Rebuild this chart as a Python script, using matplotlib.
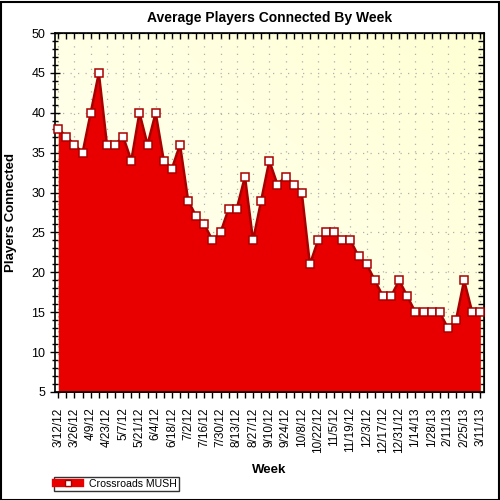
import numpy as np
import matplotlib
matplotlib.use("Agg")
import matplotlib.pyplot as plt
from matplotlib.lines import Line2D
from matplotlib.patches import Rectangle

plt.rcParams['font.family'] = ['Liberation Sans', 'DejaVu Sans']

# weekly average players, starting 3/12/12
players = [38, 37, 36, 35, 40, 45, 36, 36, 37, 34, 40, 36, 40, 34, 33, 36, 29, 27, 26,
           24, 25, 28, 28, 32, 24,
           29, 34, 31, 32, 31, 30, 21, 24, 25, 25, 24, 24, 22, 21, 19, 17, 17, 19,
           17, 15, 15, 15, 15, 13, 14, 19, 15, 15]
week_labels = ['3/12/12', '3/26/12', '4/9/12', '4/23/12', '5/7/12', '5/21/12', '6/4/12',
               '6/18/12', '7/2/12', '7/16/12', '7/30/12', '8/13/12', '8/27/12', '9/10/12',
               '9/24/12', '10/8/12', '10/22/12', '11/5/12', '11/19/12', '12/3/12',
               '12/17/12', '12/31/12', '1/14/13', '1/28/13', '2/11/13', '2/25/13', '3/11/13']
series_name = 'Crossroads MUSH'

x = np.arange(len(players))
fill_col = '#e80000'
edge_col = '#a80000'

fig = plt.figure(figsize=(5, 5), dpi=100)
fig.patch.set_facecolor('white')
ax = fig.add_axes([0.11, 0.216, 0.858, 0.718])

# soft yellow gradient background
grad = np.linspace(0, 1, 256)
gx, gy = np.meshgrid(grad, grad)
g = (gx + gy) / 2
bg = np.zeros((256, 256, 3))
bg[..., 0] = 1.0
bg[..., 1] = 1.0
bg[..., 2] = 0.97 - 0.14 * g
ax.imshow(bg, extent=[0, 1, 0, 1], transform=ax.transAxes, origin='lower',
          aspect='auto', zorder=0)

ax.set_xlim(-0.4, len(players) - 0.55)
ax.set_ylim(5, 50)

ax.grid(True, which='major', color='#b0b0b0', linestyle=(0, (1, 5)), linewidth=0.9, zorder=1)

ax.fill_between(x, 0, players, color=fill_col, zorder=2, linewidth=0)
ax.plot(x, players, color=edge_col, lw=1.8, zorder=3)
ax.plot(x, players, linestyle='none', zorder=4, clip_on=False,
        marker='s', ms=5.5, mfc='white', mec=edge_col, mew=1.1)

ax.set_xticks(x[::2])
ax.set_xticklabels(week_labels, rotation=90, fontsize=8.5)
ax.set_xticks(x, minor=True)
ax.set_yticks(np.arange(5, 51, 5))
ax.set_yticks(np.arange(5, 51, 1), minor=True)
ax.tick_params(axis='y', which='major', direction='inout', length=7, width=1, labelsize=9)
ax.tick_params(axis='y', which='minor', direction='inout', length=4.5, width=1)
ax.tick_params(axis='x', which='both', direction='out', length=4, width=1, pad=7)

for s in ax.spines.values():
    s.set_linewidth(1.2)
    s.set_color('black')

top = ax.secondary_xaxis('top')
top.set_xticks(x)
top.tick_params(direction='in', length=4, width=1, labeltop=False)
top.set_xticklabels([])
right = ax.secondary_yaxis('right')
right.set_yticks(np.arange(5, 51, 1))
right.tick_params(direction='in', length=4, width=1, labelright=False)
right.set_yticklabels([])

ax.set_title('Average Players Connected By Week', fontsize=10, fontweight='bold', pad=8)
ax.set_ylabel('Players Connected', fontsize=9.5, fontweight='bold', labelpad=10)
ax.set_xlabel('Week', fontsize=9.5, fontweight='bold', labelpad=8)

handle = Line2D([], [], color=fill_col, lw=6, marker='s', ms=5, mfc='white',
                mec=edge_col, mew=1)
leg = fig.legend([handle], [series_name], loc='lower left', bbox_to_anchor=(0.108, 0.018),
                 fontsize=7.6, frameon=True, fancybox=False, edgecolor='black',
                 handlelength=2.3, borderpad=0.2, handletextpad=0.8, borderaxespad=0)
leg.get_frame().set_linewidth(1)

fig.patches.append(Rectangle((0.001, 0.001), 0.996, 0.996, transform=fig.transFigure,
                             fill=False, edgecolor='black', lw=1.5))

fig.savefig('out.png', dpi=100)
